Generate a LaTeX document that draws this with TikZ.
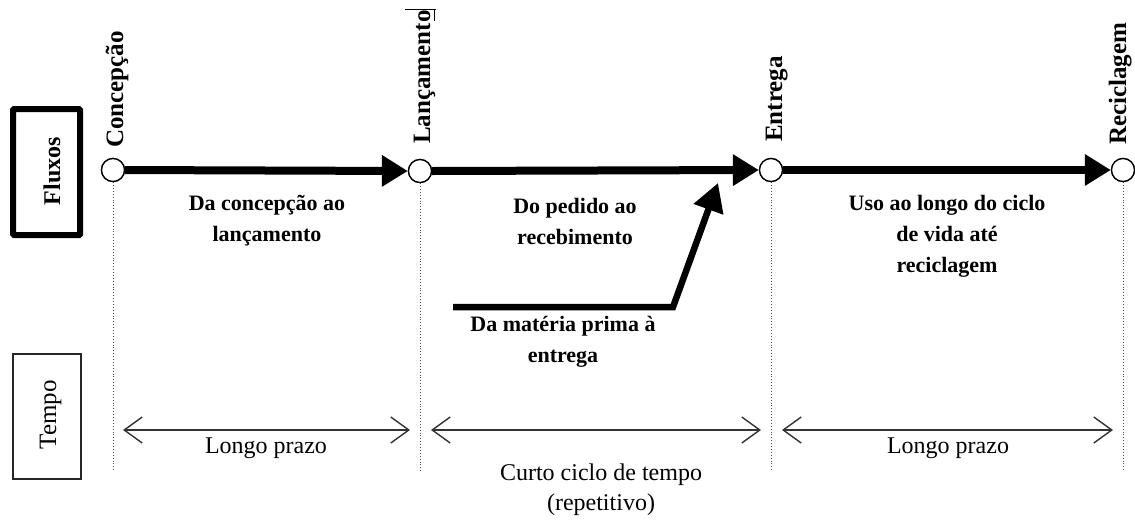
\documentclass[tikz,border=0pt]{standalone}
\usepackage{fontspec}
\setmainfont{Liberation Serif}
\usetikzlibrary{arrows.meta}
\begin{document}
\begin{tikzpicture}[x=1pt,y=-1pt,
  milestone/.style={circle,draw,fill=white,minimum size=23pt,inner sep=0pt,line width=1.3pt},
  flowarrow/.style={line width=8pt,-{Triangle[length=26pt,width=30pt]}},
  timearrow/.style={line width=1.4pt,draw=black!80,{Straight Barb[length=18pt,width=26pt]}-{Straight Barb[length=18pt,width=26pt]}},
  vlabel/.style={rotate=90,anchor=base west,inner sep=0pt,font=\fontsize{25}{30}\selectfont\bfseries},
  boldtxt/.style={align=center,inner sep=0pt,font=\fontsize{22}{31}\selectfont\bfseries},
  regtxt/.style={align=center,inner sep=0pt,font=\fontsize{24}{30}\selectfont},
  guide/.style={dotted,line width=0.9pt,draw=black!70}]
\useasboundingbox (0,0) rectangle (1135,523);
\fill[white] (0,0) rectangle (1135,523);

% side boxes
\node[draw,line width=6pt,rounded corners=1pt,minimum width=67pt,minimum height=126pt,inner sep=0pt] (fluxbox) at (46.5,172) {};
\node[rotate=90,inner sep=0pt,font=\fontsize{24}{28}\selectfont\bfseries] (fluxos) at (52,171) {Fluxos};
\node[draw,line width=1.2pt,draw=black!85,minimum width=68pt,minimum height=125pt,inner sep=0pt] (tempobox) at (47,416.5) {};
\node[rotate=90,inner sep=0pt,font=\fontsize{25}{28}\selectfont] (tempo) at (50.5,415) {Tempo};

% milestones
\node[milestone] (c1) at (113,170) {};
\node[milestone] (c2) at (420,171) {};
\node[milestone] (c3) at (771,170) {};
\node[milestone] (c4) at (1123,170) {};

% dotted guides
\coordinate (d1) at (113,472);
\coordinate (d2) at (420,472);
\coordinate (d3) at (771,472);
\coordinate (d4) at (1123,472);
\begin{scope}[on background layer/.style={}]
\draw[guide] (c1.south) -- (d1);
\draw[guide] (c2.south) -- (d2);
\draw[guide] (c3.south) -- (d3);
\draw[guide] (c4.south) -- (d4);
\end{scope}

% flow arrows
\draw[flowarrow] (c1.east) -- (c2.west);
\draw[flowarrow] (c2.east) -- (c3.west);
\draw[flowarrow] (c3.east) -- (c4.west);
\node[milestone] at (c1) {};
\node[milestone] at (c2) {};
\node[milestone] at (c3) {};
\node[milestone] at (c4) {};

% vertical labels
\node[vlabel] (l1) at (123,148) {Concepção};
\node[vlabel] (l2) at (430,144) {Lançamento};
\node[vlabel] (l3) at (782,142) {Entrega};
\node[vlabel] (l4) at (1126,145) {Reciclagem};
\draw[line width=0.9pt] (405,9) -- (436,9);
\draw[line width=0.9pt] (434,9) -- (434,21);

% flow texts
\node[boldtxt] (t1) at (267,221) {Da concepção ao\\lançamento};
\node[boldtxt] (t2) at (575,221) {Do pedido ao\\recebimento};
\node[boldtxt] (t3) at (947,236) {Uso ao longo do ciclo\\de vida até\\reciclagem};

% raw material arrow
\coordinate (bstart) at (453,307);
\coordinate (bbend) at (673,307);
\coordinate (btip) at (718,183);
\draw[line width=6.5pt,-{Triangle[length=28pt,width=30pt]}] (bstart) -- (bbend) -- (btip);
\node[boldtxt] (t4) at (563,342) {Da matéria prima à\\entrega};

% time arrows
\coordinate (a1) at (123,430);
\coordinate (a2) at (410,430);
\coordinate (a3) at (431,430);
\coordinate (a4) at (761,430);
\coordinate (a5) at (782,430);
\coordinate (a6) at (1113,430);
\draw[timearrow] (a1) -- (a2);
\draw[timearrow] (a3) -- (a4);
\draw[timearrow] (a5) -- (a6);
\node[regtxt] (p1) at (266,448) {Longo prazo};
\node[regtxt] (p2) at (601,490) {Curto ciclo de tempo\\(repetitivo)};
\node[regtxt] (p3) at (948,448) {Longo prazo};
\end{tikzpicture}
\end{document}
